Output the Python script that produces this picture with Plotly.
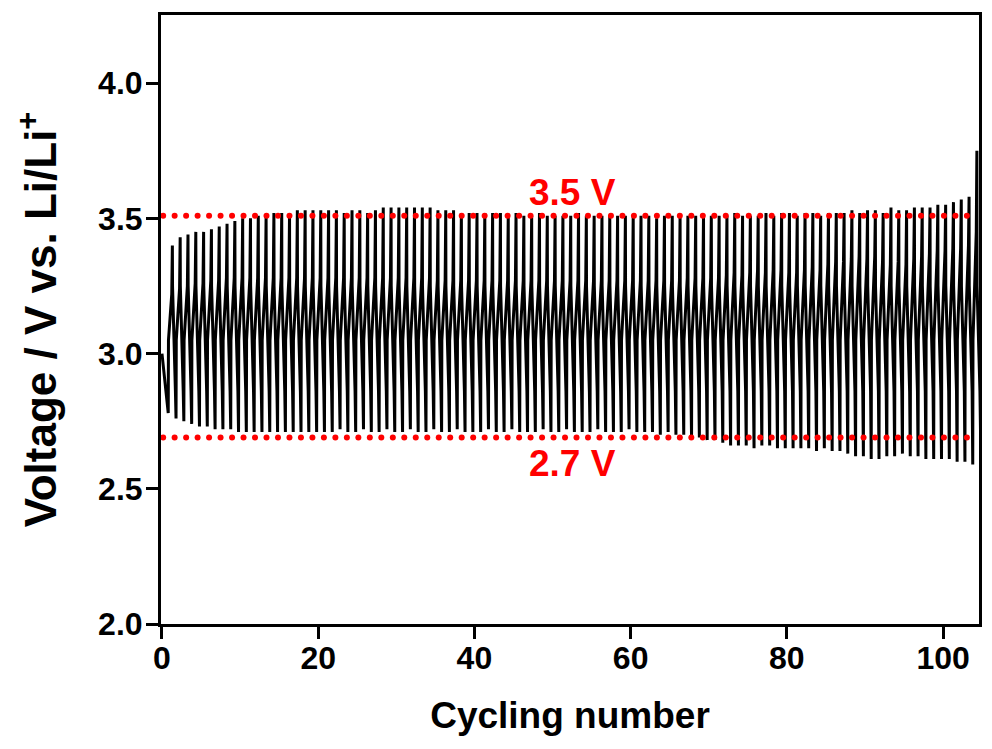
import numpy as np
import plotly.graph_objects as go

# ---- data ----
# peak (charge cut-off) voltage of each cycle 1..103, then the last partial cycle 104
peak_v = [3.40, 3.43, 3.44, 3.45, 3.45, 3.46, 3.47, 3.48, 3.49, 3.50,
          3.50, 3.51, 3.51, 3.52, 3.52, 3.52, 3.53, 3.53, 3.53, 3.53,
          3.53, 3.53, 3.52, 3.53, 3.53, 3.52, 3.53, 3.54, 3.54, 3.54,
          3.54, 3.54, 3.54, 3.54, 3.53, 3.53, 3.53, 3.52, 3.52, 3.52,
          3.52, 3.52, 3.52, 3.51, 3.52, 3.51, 3.51, 3.52, 3.51, 3.51,
          3.51, 3.51, 3.52, 3.51, 3.51, 3.51, 3.51, 3.51, 3.51, 3.51,
          3.51, 3.51, 3.50, 3.51, 3.51, 3.51, 3.51, 3.51, 3.51, 3.51,
          3.51, 3.51, 3.52, 3.51, 3.51, 3.51, 3.52, 3.51, 3.52, 3.52,
          3.51, 3.52, 3.52, 3.51, 3.52, 3.52, 3.52, 3.53, 3.52, 3.53,
          3.53, 3.52, 3.54, 3.53, 3.53, 3.54, 3.54, 3.54, 3.55, 3.55,
          3.56, 3.57, 3.58, 3.75]
# end-of-discharge voltage after each cycle 0..103, then the end value at the right edge
trough_v = [2.78,
            2.76, 2.75, 2.74, 2.73, 2.73, 2.72, 2.72, 2.72, 2.71, 2.71,
            2.71, 2.71, 2.71, 2.71, 2.71, 2.71, 2.71, 2.71, 2.71, 2.71,
            2.71, 2.72, 2.71, 2.71, 2.72, 2.71, 2.71, 2.72, 2.71, 2.71,
            2.72, 2.71, 2.71, 2.72, 2.71, 2.71, 2.72, 2.71, 2.71, 2.71,
            2.72, 2.71, 2.71, 2.72, 2.71, 2.71, 2.71, 2.72, 2.71, 2.71,
            2.72, 2.71, 2.71, 2.71, 2.72, 2.71, 2.71, 2.71, 2.72, 2.71,
            2.71, 2.71, 2.70, 2.71, 2.70, 2.70, 2.69, 2.69, 2.68, 2.68,
            2.67, 2.66, 2.66, 2.66, 2.65, 2.66, 2.66, 2.65, 2.65, 2.65,
            2.65, 2.65, 2.64, 2.65, 2.64, 2.64, 2.63, 2.62, 2.62, 2.61,
            2.61, 2.62, 2.62, 2.63, 2.62, 2.62, 2.61, 2.61, 2.61, 2.61,
            2.60, 2.60, 2.59, 2.70]
# end of the slow charge plateau of each cycle 1..104
plateau_v = [3.22, 3.24, 3.25, 3.26, 3.26, 3.27, 3.27, 3.28, 3.28, 3.28,
             3.28, 3.28, 3.28, 3.28, 3.28, 3.28, 3.28, 3.28, 3.28, 3.28,
             3.28, 3.28, 3.28, 3.28, 3.28, 3.28, 3.28, 3.28, 3.28, 3.28,
             3.28, 3.28, 3.28, 3.28, 3.27, 3.27, 3.27, 3.27, 3.27, 3.27,
             3.27, 3.27, 3.27, 3.27, 3.27, 3.27, 3.27, 3.27, 3.27, 3.27,
             3.27, 3.27, 3.27, 3.27, 3.27, 3.27, 3.27, 3.27, 3.27, 3.27,
             3.27, 3.27, 3.27, 3.27, 3.27, 3.27, 3.28, 3.28, 3.28, 3.28,
             3.28, 3.29, 3.30, 3.29, 3.30, 3.31, 3.30, 3.31, 3.31, 3.30,
             3.30, 3.31, 3.32, 3.31, 3.33, 3.34, 3.34, 3.35, 3.36, 3.35,
             3.36, 3.34, 3.33, 3.34, 3.33, 3.35, 3.36, 3.37, 3.38, 3.38,
             3.39, 3.39, 3.40, 3.45]
start_v = 3.00          # voltage at cycle 0
ref_levels = [3.51, 2.69]
ref_labels = ["3.5 V", "2.7 V"]
x_ticks = [0, 20, 40, 60, 80, 100]
y_ticks = [2.0, 2.5, 3.0, 3.5, 4.0]

# ---- build the voltage trace, cycle by cycle ----
xs = [0.0]
ys = [start_v]
xs += [0.55, 0.8]
ys += [2.85, trough_v[0]]
for i, k in enumerate(range(1, 105)):
    hi = peak_v[i]
    pe = plateau_v[i]
    lo = trough_v[i + 1]
    base = k - 0.2
    xs += [base + 0.03, base + 0.45, base + 0.53, base + 0.55, base + 0.92, base + 1.0]
    ys += [3.05, pe, hi, 3.25, 2.86, lo]

fig = go.Figure()
fig.add_trace(go.Scatter(x=xs, y=ys, mode="lines",
                         line=dict(color="black", width=3), hoverinfo="skip",
                         showlegend=False))

dot_x = np.arange(0.15, 104.5, 1.47)
for lev in ref_levels:
    fig.add_trace(go.Scatter(x=dot_x, y=[lev] * len(dot_x), mode="markers",
                             marker=dict(color="#ff0000", size=6, line=dict(width=0)),
                             showlegend=False, hoverinfo="skip"))

FONT = "Arial, Liberation Sans, sans-serif"
fig.add_annotation(x=52.6, y=3.594, text=ref_labels[0], showarrow=False,
                   font=dict(family=FONT, size=37, color="#ff0000", weight="bold"))
fig.add_annotation(x=52.6, y=2.594, text=ref_labels[1], showarrow=False,
                   font=dict(family=FONT, size=37, color="#ff0000", weight="bold"))

fig.update_layout(
    width=976, height=728,
    margin=dict(l=153, r=2, t=7, b=111),
    paper_bgcolor="white", plot_bgcolor="white",
    font=dict(family=FONT, color="black"),
    xaxis=dict(range=[-0.126, 104.6], tickvals=x_ticks, showgrid=False, zeroline=False,
               showline=True, linecolor="black", linewidth=3, mirror=True,
               ticks="outside", ticklen=12, tickwidth=3, tickcolor="black",
               ticklabelstandoff=-8,
               tickfont=dict(family=FONT, size=32, weight="bold"),
               title=dict(text="Cycling number", standoff=32,
                          font=dict(family=FONT, size=37, weight="bold"))),
    yaxis=dict(range=[2.0, 4.252], tickvals=y_ticks, tickformat=".1f",
               showgrid=False, zeroline=False,
               showline=True, linecolor="black", linewidth=3, mirror=True,
               ticks="outside", ticklen=12, tickwidth=3, tickcolor="black",
               ticklabelstandoff=-3,
               tickfont=dict(family=FONT, size=32, weight="bold"),
               title=dict(text="Voltage / V vs. Li/Li<sup>+</sup>", standoff=28,
                          font=dict(family=FONT, size=44, weight="bold"))),
)

fig.write_html("out.html")
